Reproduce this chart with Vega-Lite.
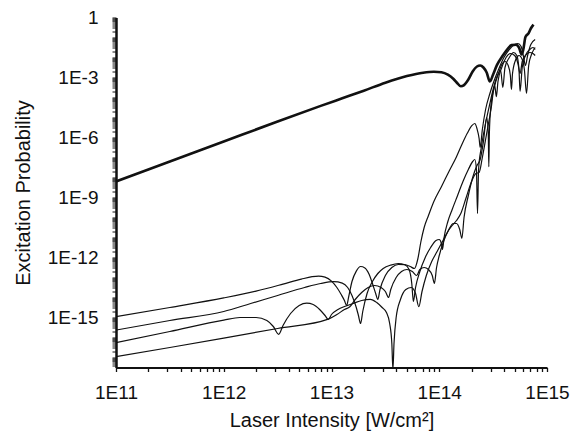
{
  "$schema": "https://vega.github.io/schema/vega-lite/v6.json",
  "width": 431,
  "height": 350,
  "autosize": "none",
  "padding": {"left": 116, "top": 17.5, "right": 23, "bottom": 65.5},
  "config": {"view": {"stroke": null}, "font": "Liberation Sans"},
  "datasets": {
    "main": [
      {"lgI":11.0,"lgP":-8.2},{"lgI":11.5,"lgP":-7.2},{"lgI":12.0,"lgP":-6.2},{"lgI":12.5,"lgP":-5.2},{"lgI":12.9,"lgP":-4.42},{"lgI":13.1,"lgP":-4.04},{"lgI":13.3,"lgP":-3.66},{"lgI":13.5,"lgP":-3.26},{"lgI":13.7,"lgP":-2.93},{"lgI":13.85,"lgP":-2.76},{"lgI":13.95,"lgP":-2.71},{"lgI":14.02,"lgP":-2.74},{"lgI":14.08,"lgP":-2.86},{"lgI":14.13,"lgP":-3.06},{"lgI":14.17,"lgP":-3.3},{"lgI":14.2,"lgP":-3.44},{"lgI":14.23,"lgP":-3.38},{"lgI":14.27,"lgP":-3.1},{"lgI":14.31,"lgP":-2.7},{"lgI":14.35,"lgP":-2.45},{"lgI":14.38,"lgP":-2.4},{"lgI":14.41,"lgP":-2.5},{"lgI":14.44,"lgP":-2.75},{"lgI":14.47,"lgP":-3.2},{"lgI":14.5,"lgP":-2.85},{"lgI":14.535,"lgP":-2.38},{"lgI":14.59,"lgP":-1.9},{"lgI":14.63,"lgP":-1.6},{"lgI":14.67,"lgP":-1.38},{"lgI":14.71,"lgP":-1.36},{"lgI":14.74,"lgP":-1.5},{"lgI":14.765,"lgP":-1.85},{"lgI":14.78,"lgP":-1.6},{"lgI":14.8,"lgP":-0.98},{"lgI":14.83,"lgP":-0.78},{"lgI":14.85,"lgP":-0.55},{"lgI":14.875,"lgP":-0.36}
    ],
    "thin": [
      {"c":"A","lgI":11.0,"lgP":-14.96},{"c":"A","lgI":11.5,"lgP":-14.5},{"c":"A","lgI":12.0,"lgP":-14.02},{"c":"A","lgI":12.3,"lgP":-13.68},{"c":"A","lgI":12.55,"lgP":-13.33},{"c":"A","lgI":12.72,"lgP":-13.08},{"c":"A","lgI":12.82,"lgP":-12.96},{"c":"A","lgI":12.88,"lgP":-12.93},{"c":"A","lgI":12.94,"lgP":-12.98},{"c":"A","lgI":13.0,"lgP":-13.18},{"c":"A","lgI":13.05,"lgP":-13.5},{"c":"A","lgI":13.09,"lgP":-13.85},{"c":"A","lgI":13.12,"lgP":-14.15},{"c":"A","lgI":13.14,"lgP":-14.4},{"c":"A","lgI":13.16,"lgP":-13.95},{"c":"A","lgI":13.19,"lgP":-13.2},{"c":"A","lgI":13.23,"lgP":-12.68},{"c":"A","lgI":13.27,"lgP":-12.45},{"c":"A","lgI":13.31,"lgP":-12.52},{"c":"A","lgI":13.35,"lgP":-12.85},{"c":"A","lgI":13.38,"lgP":-13.3},{"c":"A","lgI":13.41,"lgP":-13.8},{"c":"A","lgI":13.43,"lgP":-14.1},{"c":"A","lgI":13.45,"lgP":-13.6},{"c":"A","lgI":13.5,"lgP":-12.9},{"c":"A","lgI":13.56,"lgP":-12.5},{"c":"A","lgI":13.62,"lgP":-12.35},{"c":"A","lgI":13.68,"lgP":-12.36},{"c":"A","lgI":13.73,"lgP":-12.45},{"c":"A","lgI":13.77,"lgP":-12.55},{"c":"A","lgI":13.8,"lgP":-12.1},{"c":"A","lgI":13.83,"lgP":-11.2},{"c":"A","lgI":13.86,"lgP":-10.5},{"c":"A","lgI":13.9,"lgP":-9.9},{"c":"A","lgI":13.95,"lgP":-9.2},{"c":"A","lgI":14.02,"lgP":-8.46},{"c":"A","lgI":14.09,"lgP":-7.7},{"c":"A","lgI":14.16,"lgP":-6.96},{"c":"A","lgI":14.21,"lgP":-6.35},{"c":"A","lgI":14.26,"lgP":-5.79},{"c":"A","lgI":14.3,"lgP":-5.42},{"c":"A","lgI":14.33,"lgP":-5.3},{"c":"A","lgI":14.35,"lgP":-5.55},{"c":"A","lgI":14.37,"lgP":-6.05},{"c":"A","lgI":14.38,"lgP":-6.5},{"c":"A","lgI":14.4,"lgP":-5.6},{"c":"A","lgI":14.43,"lgP":-4.6},{"c":"A","lgI":14.47,"lgP":-3.8},{"c":"A","lgI":14.5,"lgP":-3.3},{"c":"A","lgI":14.55,"lgP":-2.6},{"c":"A","lgI":14.6,"lgP":-2.0},{"c":"A","lgI":14.65,"lgP":-1.6},{"c":"A","lgI":14.7,"lgP":-1.35},{"c":"A","lgI":14.73,"lgP":-1.3},{"c":"A","lgI":14.76,"lgP":-1.45},{"c":"A","lgI":14.78,"lgP":-1.9},{"c":"A","lgI":14.8,"lgP":-2.4},{"c":"A","lgI":14.82,"lgP":-1.9},{"c":"A","lgI":14.85,"lgP":-1.35},{"c":"A","lgI":14.89,"lgP":-1.1},
      {"c":"B","lgI":11.0,"lgP":-15.63},{"c":"B","lgI":11.5,"lgP":-15.15},{"c":"B","lgI":12.0,"lgP":-14.7},{"c":"B","lgI":12.25,"lgP":-14.3},{"c":"B","lgI":12.5,"lgP":-13.9},{"c":"B","lgI":12.75,"lgP":-13.5},{"c":"B","lgI":12.9,"lgP":-13.3},{"c":"B","lgI":13.02,"lgP":-13.21},{"c":"B","lgI":13.1,"lgP":-13.28},{"c":"B","lgI":13.15,"lgP":-13.5},{"c":"B","lgI":13.19,"lgP":-13.9},{"c":"B","lgI":13.23,"lgP":-14.5},{"c":"B","lgI":13.25,"lgP":-14.9},{"c":"B","lgI":13.27,"lgP":-15.3},{"c":"B","lgI":13.29,"lgP":-14.7},{"c":"B","lgI":13.33,"lgP":-13.8},{"c":"B","lgI":13.38,"lgP":-13.2},{"c":"B","lgI":13.43,"lgP":-12.8},{"c":"B","lgI":13.48,"lgP":-12.55},{"c":"B","lgI":13.55,"lgP":-12.38},{"c":"B","lgI":13.62,"lgP":-12.3},{"c":"B","lgI":13.68,"lgP":-12.36},{"c":"B","lgI":13.72,"lgP":-12.6},{"c":"B","lgI":13.745,"lgP":-13.3},{"c":"B","lgI":13.76,"lgP":-14.2},{"c":"B","lgI":13.78,"lgP":-13.5},{"c":"B","lgI":13.82,"lgP":-12.7},{"c":"B","lgI":13.87,"lgP":-12.0},{"c":"B","lgI":13.92,"lgP":-11.5},{"c":"B","lgI":13.97,"lgP":-11.15},{"c":"B","lgI":14.0,"lgP":-11.1},{"c":"B","lgI":14.02,"lgP":-11.3},{"c":"B","lgI":14.03,"lgP":-11.6},{"c":"B","lgI":14.045,"lgP":-11.0},{"c":"B","lgI":14.08,"lgP":-10.2},{"c":"B","lgI":14.12,"lgP":-9.6},{"c":"B","lgI":14.17,"lgP":-8.9},{"c":"B","lgI":14.22,"lgP":-8.2},{"c":"B","lgI":14.27,"lgP":-7.6},{"c":"B","lgI":14.31,"lgP":-7.2},{"c":"B","lgI":14.33,"lgP":-7.1},{"c":"B","lgI":14.345,"lgP":-7.6},{"c":"B","lgI":14.355,"lgP":-9.8},{"c":"B","lgI":14.365,"lgP":-7.6},{"c":"B","lgI":14.39,"lgP":-6.5},{"c":"B","lgI":14.43,"lgP":-5.3},{"c":"B","lgI":14.47,"lgP":-4.3},{"c":"B","lgI":14.5,"lgP":-3.6},{"c":"B","lgI":14.54,"lgP":-2.9},{"c":"B","lgI":14.57,"lgP":-2.65},{"c":"B","lgI":14.59,"lgP":-3.5},{"c":"B","lgI":14.61,"lgP":-2.5},{"c":"B","lgI":14.65,"lgP":-2.0},{"c":"B","lgI":14.69,"lgP":-1.75},{"c":"B","lgI":14.72,"lgP":-1.9},{"c":"B","lgI":14.74,"lgP":-2.6},{"c":"B","lgI":14.75,"lgP":-3.7},{"c":"B","lgI":14.77,"lgP":-2.5},{"c":"B","lgI":14.8,"lgP":-1.9},{"c":"B","lgI":14.84,"lgP":-1.6},{"c":"B","lgI":14.87,"lgP":-1.5},{"c":"B","lgI":14.89,"lgP":-1.6},
      {"c":"C","lgI":11.0,"lgP":-16.26},{"c":"C","lgI":11.5,"lgP":-15.7},{"c":"C","lgI":12.0,"lgP":-15.13},{"c":"C","lgI":12.15,"lgP":-15.0},{"c":"C","lgI":12.3,"lgP":-15.0},{"c":"C","lgI":12.4,"lgP":-15.15},{"c":"C","lgI":12.46,"lgP":-15.45},{"c":"C","lgI":12.51,"lgP":-15.84},{"c":"C","lgI":12.55,"lgP":-15.4},{"c":"C","lgI":12.62,"lgP":-14.8},{"c":"C","lgI":12.7,"lgP":-14.4},{"c":"C","lgI":12.77,"lgP":-14.28},{"c":"C","lgI":12.83,"lgP":-14.35},{"c":"C","lgI":12.89,"lgP":-14.6},{"c":"C","lgI":12.94,"lgP":-14.9},{"c":"C","lgI":12.97,"lgP":-15.1},{"c":"C","lgI":13.0,"lgP":-14.85},{"c":"C","lgI":13.06,"lgP":-14.6},{"c":"C","lgI":13.12,"lgP":-14.45},{"c":"C","lgI":13.2,"lgP":-14.3},{"c":"C","lgI":13.28,"lgP":-14.15},{"c":"C","lgI":13.36,"lgP":-14.09},{"c":"C","lgI":13.42,"lgP":-14.25},{"c":"C","lgI":13.47,"lgP":-14.5},{"c":"C","lgI":13.51,"lgP":-14.75},{"c":"C","lgI":13.54,"lgP":-15.3},{"c":"C","lgI":13.56,"lgP":-16.3},{"c":"C","lgI":13.57,"lgP":-17.6},{"c":"C","lgI":13.58,"lgP":-16.3},{"c":"C","lgI":13.6,"lgP":-15.0},{"c":"C","lgI":13.64,"lgP":-14.1},{"c":"C","lgI":13.69,"lgP":-13.6},{"c":"C","lgI":13.74,"lgP":-13.5},{"c":"C","lgI":13.78,"lgP":-13.8},{"c":"C","lgI":13.81,"lgP":-14.46},{"c":"C","lgI":13.84,"lgP":-13.7},{"c":"C","lgI":13.88,"lgP":-12.9},{"c":"C","lgI":13.93,"lgP":-12.2},{"c":"C","lgI":13.98,"lgP":-11.7},{"c":"C","lgI":14.03,"lgP":-11.2},{"c":"C","lgI":14.08,"lgP":-10.7},{"c":"C","lgI":14.13,"lgP":-10.3},{"c":"C","lgI":14.16,"lgP":-10.3},{"c":"C","lgI":14.19,"lgP":-10.6},{"c":"C","lgI":14.21,"lgP":-11.04},{"c":"C","lgI":14.23,"lgP":-10.0},{"c":"C","lgI":14.27,"lgP":-8.9},{"c":"C","lgI":14.31,"lgP":-8.0},{"c":"C","lgI":14.35,"lgP":-7.4},{"c":"C","lgI":14.38,"lgP":-7.1},{"c":"C","lgI":14.41,"lgP":-6.2},{"c":"C","lgI":14.44,"lgP":-5.0},{"c":"C","lgI":14.455,"lgP":-5.8},{"c":"C","lgI":14.46,"lgP":-7.46},{"c":"C","lgI":14.465,"lgP":-5.8},{"c":"C","lgI":14.48,"lgP":-4.4},{"c":"C","lgI":14.51,"lgP":-3.5},{"c":"C","lgI":14.55,"lgP":-2.8},{"c":"C","lgI":14.58,"lgP":-2.35},{"c":"C","lgI":14.61,"lgP":-2.2},{"c":"C","lgI":14.64,"lgP":-2.4},{"c":"C","lgI":14.66,"lgP":-2.9},{"c":"C","lgI":14.67,"lgP":-3.6},{"c":"C","lgI":14.68,"lgP":-2.8},{"c":"C","lgI":14.71,"lgP":-2.1},{"c":"C","lgI":14.74,"lgP":-1.9},{"c":"C","lgI":14.77,"lgP":-2.1},{"c":"C","lgI":14.79,"lgP":-2.6},{"c":"C","lgI":14.81,"lgP":-3.8},{"c":"C","lgI":14.83,"lgP":-2.4},{"c":"C","lgI":14.86,"lgP":-1.8},{"c":"C","lgI":14.89,"lgP":-1.5},
      {"c":"D","lgI":11.0,"lgP":-16.96},{"c":"D","lgI":11.5,"lgP":-16.5},{"c":"D","lgI":12.0,"lgP":-16.03},{"c":"D","lgI":12.5,"lgP":-15.55},{"c":"D","lgI":12.97,"lgP":-15.08},{"c":"D","lgI":13.05,"lgP":-14.85},{"c":"D","lgI":13.12,"lgP":-14.6},{"c":"D","lgI":13.17,"lgP":-14.46},{"c":"D","lgI":13.22,"lgP":-14.1},{"c":"D","lgI":13.28,"lgP":-13.75},{"c":"D","lgI":13.34,"lgP":-13.5},{"c":"D","lgI":13.4,"lgP":-13.4},{"c":"D","lgI":13.46,"lgP":-13.5},{"c":"D","lgI":13.5,"lgP":-13.7},{"c":"D","lgI":13.53,"lgP":-14.0},{"c":"D","lgI":13.55,"lgP":-13.6},{"c":"D","lgI":13.6,"lgP":-13.0},{"c":"D","lgI":13.65,"lgP":-12.7},{"c":"D","lgI":13.7,"lgP":-12.6},{"c":"D","lgI":13.75,"lgP":-12.7},{"c":"D","lgI":13.79,"lgP":-12.9},{"c":"D","lgI":13.82,"lgP":-12.6},{"c":"D","lgI":13.86,"lgP":-12.5},{"c":"D","lgI":13.9,"lgP":-12.6},{"c":"D","lgI":13.935,"lgP":-12.9},{"c":"D","lgI":13.955,"lgP":-13.29},{"c":"D","lgI":13.975,"lgP":-12.5},{"c":"D","lgI":14.0,"lgP":-11.9},{"c":"D","lgI":14.04,"lgP":-11.2},{"c":"D","lgI":14.08,"lgP":-10.7},{"c":"D","lgI":14.12,"lgP":-10.4},{"c":"D","lgI":14.16,"lgP":-10.15},{"c":"D","lgI":14.2,"lgP":-9.8},{"c":"D","lgI":14.25,"lgP":-9.0},{"c":"D","lgI":14.3,"lgP":-8.2},{"c":"D","lgI":14.34,"lgP":-7.8},{"c":"D","lgI":14.37,"lgP":-7.75},{"c":"D","lgI":14.4,"lgP":-7.0},{"c":"D","lgI":14.44,"lgP":-5.8},{"c":"D","lgI":14.48,"lgP":-4.6},{"c":"D","lgI":14.515,"lgP":-3.4},{"c":"D","lgI":14.53,"lgP":-3.96},{"c":"D","lgI":14.545,"lgP":-3.2},{"c":"D","lgI":14.58,"lgP":-2.5},{"c":"D","lgI":14.62,"lgP":-2.0},{"c":"D","lgI":14.66,"lgP":-1.8},{"c":"D","lgI":14.7,"lgP":-1.9},{"c":"D","lgI":14.73,"lgP":-2.3},{"c":"D","lgI":14.75,"lgP":-2.8},{"c":"D","lgI":14.77,"lgP":-2.2},{"c":"D","lgI":14.8,"lgP":-1.9},{"c":"D","lgI":14.84,"lgP":-1.75},{"c":"D","lgI":14.87,"lgP":-1.8},{"c":"D","lgI":14.89,"lgP":-1.9}
    ]
  },
  "encoding": {
    "x": {
      "field": "lgI", "type": "quantitative",
      "scale": {"domain": [11, 15], "nice": false, "zero": false},
      "axis": {
        "values": [11, 11.301, 11.477, 11.602, 11.699, 11.778, 11.845, 11.903, 11.954, 12, 12.301, 12.477, 12.602, 12.699, 12.778, 12.845, 12.903, 12.954, 13, 13.301, 13.477, 13.602, 13.699, 13.778, 13.845, 13.903, 13.954, 14, 14.301, 14.477, 14.602, 14.699, 14.778, 14.845, 14.903, 14.954, 15],
        "labelExpr": "abs(datum.value - round(datum.value)) < 0.001 ? '1E' + round(datum.value) : ''",
        "labelOverlap": false, "labelFlush": false, "labelBound": false,
        "labelFontSize": 19, "labelColor": "#111111", "labelBaseline": "alphabetic", "labelPadding": 27,
        "tickSize": 4, "tickColor": "#111111", "tickWidth": 1.3,
        "domainColor": "#111111", "domainWidth": 2, "grid": false,
        "title": "Laser Intensity [W/cm²]", "titleFontSize": 20, "titleFontWeight": "normal", "titleColor": "#111111",
        "titleBaseline": "alphabetic", "titleY": 59
      }
    },
    "y": {
      "field": "lgP", "type": "quantitative",
      "scale": {"domain": [-17.5, 0], "nice": false, "zero": false},
      "axis": {
        "values": [-17.398, -17.301, -17.222, -17.155, -17.097, -17.046, -17, -16.699, -16.523, -16.398, -16.301, -16.222, -16.155, -16.097, -16.046, -16, -15.699, -15.523, -15.398, -15.301, -15.222, -15.155, -15.097, -15.046, -15, -14.699, -14.523, -14.398, -14.301, -14.222, -14.155, -14.097, -14.046, -14, -13.699, -13.523, -13.398, -13.301, -13.222, -13.155, -13.097, -13.046, -13, -12.699, -12.523, -12.398, -12.301, -12.222, -12.155, -12.097, -12.046, -12, -11.699, -11.523, -11.398, -11.301, -11.222, -11.155, -11.097, -11.046, -11, -10.699, -10.523, -10.398, -10.301, -10.222, -10.155, -10.097, -10.046, -10, -9.699, -9.523, -9.398, -9.301, -9.222, -9.155, -9.097, -9.046, -9, -8.699, -8.523, -8.398, -8.301, -8.222, -8.155, -8.097, -8.046, -8, -7.699, -7.523, -7.398, -7.301, -7.222, -7.155, -7.097, -7.046, -7, -6.699, -6.523, -6.398, -6.301, -6.222, -6.155, -6.097, -6.046, -6, -5.699, -5.523, -5.398, -5.301, -5.222, -5.155, -5.097, -5.046, -5, -4.699, -4.523, -4.398, -4.301, -4.222, -4.155, -4.097, -4.046, -4, -3.699, -3.523, -3.398, -3.301, -3.222, -3.155, -3.097, -3.046, -3, -2.699, -2.523, -2.398, -2.301, -2.222, -2.155, -2.097, -2.046, -2, -1.699, -1.523, -1.398, -1.301, -1.222, -1.155, -1.097, -1.046, -1, -0.699, -0.523, -0.398, -0.301, -0.222, -0.155, -0.097, -0.046, 0],
        "labelExpr": "abs(datum.value - round(datum.value)) < 0.001 && round(datum.value) % 3 === 0 ? (round(datum.value) === 0 ? '1' : '1E' + round(datum.value)) : ''",
        "labelOverlap": false, "labelFlush": false, "labelBound": false,
        "labelFontSize": 19, "labelColor": "#111111", "labelPadding": 14,
        "tickSize": 4, "tickColor": "#111111", "tickWidth": 1,
        "domainColor": "#111111", "domainWidth": 2.5, "grid": false,
        "title": "Excitation Probability", "titleFontSize": 20, "titleFontWeight": "normal", "titleColor": "#111111",
        "titleBaseline": "alphabetic", "titleX": -87, "titleY": 175, "titleAlign": "center"
      }
    }
  },
  "layer": [
    {
      "data": {"name": "thin"},
      "mark": {"type": "line", "color": "#111111", "strokeWidth": 1.2, "clip": true, "interpolate": "monotone"},
      "encoding": {"detail": {"field": "c", "type": "nominal"}}
    },
    {
      "data": {"name": "main"},
      "mark": {"type": "line", "color": "#111111", "strokeWidth": 2.6, "clip": true, "interpolate": "monotone"},
      "encoding": {}
    }
  ]
}
